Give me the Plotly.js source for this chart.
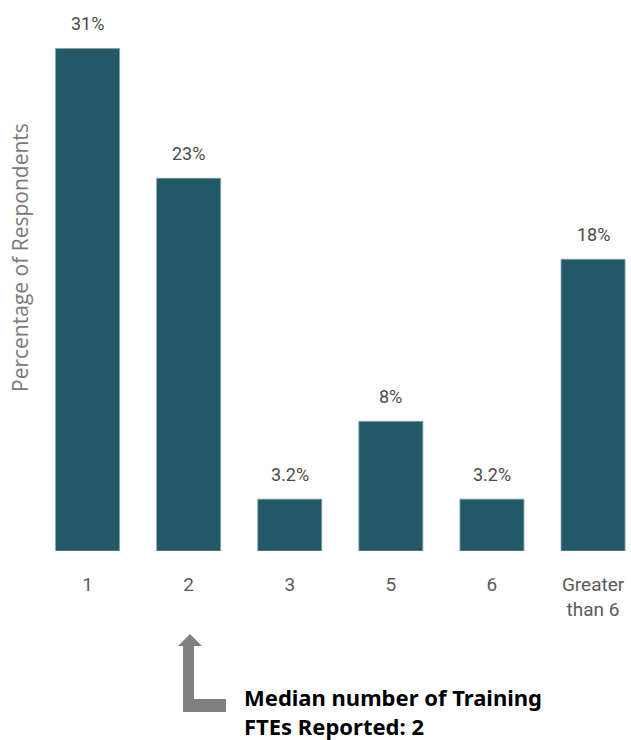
<!DOCTYPE html>
<html>
<head>
<meta charset="utf-8">
<script src="https://cdn.plot.ly/plotly-3.0.1.min.js"></script>
<style>
html,body{margin:0;padding:0;background:#fff;}
#chart{width:631px;height:740px;}
</style>
</head>
<body>
<div id="chart"></div>
<script>
// Data
const categories = ["1", "2", "3", "5", "6", "Greater<br>than 6"];
const values = [31, 23, 3.2, 8, 3.2, 18];
const valueLabels = ["31%", "23%", "3.2%", "8%", "3.2%", "18%"];
const yAxisTitle = "Percentage of Respondents";
const noteText = "Median number of Training<br>FTEs Reported: 2";

const W = 631, H = 740;
const M = {l: 37, r: 0, t: 0, b: 189};
const pw = W - M.l - M.r, ph = H - M.t - M.b;
const catStep = 101.1;
const px = x => (x - M.l) / pw;
const py = y => (M.t + ph - y) / ph;

const narrow = "'Roboto', 'Liberation Sans Narrow', sans-serif";

const trace = {
  type: 'bar',
  x: categories,
  y: values,
  marker: {color: '#235866', line: {color: '#7da3ad', width: 0.8}},
  hoverinfo: 'none'
};

const labelAnns = categories.map((c, i) => ({
  x: i, y: values[i], xref: 'x', yref: 'y',
  text: valueLabels[i], showarrow: false,
  yanchor: 'middle', yshift: 25,
  font: {family: narrow, size: 18, color: '#4a4a4a'}
}));

// L-shaped arrow pointing up at the "2" category
const arrowPts = [[190,634],[202,646],[194,646],[194,699],[226,699],[226,712],[183,712],[183,646],[178,646]];
const arrowPath = 'M ' + arrowPts.map(p => px(p[0]).toFixed(5) + ',' + py(p[1]).toFixed(5)).join(' L ') + ' Z';

const layout = {
  width: W, height: H,
  margin: M,
  paper_bgcolor: '#fff', plot_bgcolor: '#fff',
  showlegend: false,
  bargap: 0.367,
  xaxis: {
    type: 'category',
    range: [-0.5, -0.5 + pw / catStep],
    showline: false, showgrid: false, zeroline: false,
    ticks: '', ticklabelstandoff: 20,
    tickfont: {family: narrow, size: 19, color: '#5a5a5a'}
  },
  yaxis: {
    range: [0, 34],
    visible: false, showgrid: false, zeroline: false
  },
  shapes: [{
    type: 'path', xref: 'paper', yref: 'paper',
    path: arrowPath,
    fillcolor: '#808080', line: {width: 0}
  }],
  annotations: labelAnns.concat([
    {
      xref: 'paper', yref: 'paper', x: px(20), y: py(258),
      text: yAxisTitle, textangle: -90, showarrow: false,
      xanchor: 'center', yanchor: 'middle',
      font: {family: "'Open Sans', sans-serif", size: 21, color: '#7a7a7a'}
    },
    {
      xref: 'paper', yref: 'paper', x: px(242), y: py(711),
      text: '<b>' + noteText + '</b>', showarrow: false,
      xanchor: 'left', yanchor: 'middle', align: 'left',
      font: {family: "'Noto Sans', sans-serif", size: 22, color: '#000'}
    }
  ])
};

Plotly.newPlot('chart', [trace], layout, {displayModeBar: false, staticPlot: true});
</script>
</body>
</html>
